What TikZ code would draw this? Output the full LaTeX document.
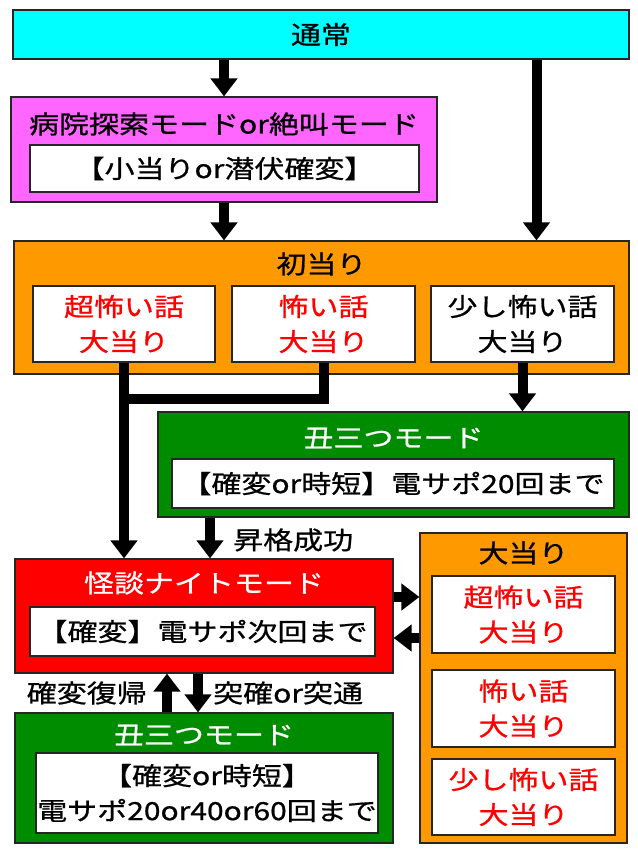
\documentclass[tikz,border=0pt]{standalone}
\usepackage{fontspec}
\newfontfamily\jpfont{Noto Sans CJK JP}[FakeStretch=1.2, FakeBold=0.8]
\usetikzlibrary{arrows.meta}
\definecolor{cyanbox}{RGB}{0,255,255}
\definecolor{pinkbox}{RGB}{255,102,255}
\definecolor{orangebox}{RGB}{255,153,0}
\definecolor{greenbox}{RGB}{0,140,0}
\definecolor{redbox}{RGB}{255,0,0}
\tikzset{
  box/.style={draw=black!85, line width=1.2pt, inner sep=0pt},
  panel/.style={box, fill=#1},
  inbox/.style={box, fill=white, align=center},
  ttl/.style={inner sep=0pt},
  lbl/.style={inner sep=0pt},
  link/.style={line width=10pt},
  arr/.style={line width=10pt, -{Triangle[width=26pt,length=18pt]}},
}
\begin{document}
\begin{tikzpicture}[x=1pt, y=-1pt, font=\jpfont\fontsize{25}{35}\selectfont]
\useasboundingbox (0,0) rectangle (637,853);
% top
\node[panel=cyanbox, minimum width=616pt, minimum height=49pt] (tsujo) at (321,34.5) {通常};
\node[panel=pinkbox, minimum width=426pt, minimum height=105pt] (byoin) at (224,149.5) {};
\node[ttl] (byoin-t) at (224,124) {病院探索モードor絶叫モード};
\node[inbox, minimum width=389pt, minimum height=47pt] (shoatari) at (224.5,168.5) {【小当りor潜伏確変】};
% first hit
\node[panel=orangebox, minimum width=615pt, minimum height=133pt] (hatsu) at (321.5,307.5) {};
\node[ttl] (hatsu-t) at (321.5,264) {初当り};
\node[inbox, minimum width=182pt, minimum height=76pt, text=red] (chou) at (124,324) {超怖い話\\大当り};
\node[inbox, minimum width=183pt, minimum height=76pt, text=red] (kowai) at (323.5,324) {怖い話\\大当り};
\node[inbox, minimum width=183pt, minimum height=76pt] (sukoshi) at (522.5,324) {少し怖い話\\大当り};
% ushimitsu 1
\node[panel=greenbox, minimum width=471pt, minimum height=105pt] (ushi1) at (393.5,464.5) {};
\node[ttl, text=white] (ushi1-t) at (393.5,438) {丑三つモード};
\node[inbox, minimum width=442pt, minimum height=49pt] (ushi1-in) at (393,483.5) {【確変or時短】電サポ20回まで};
% kaidan night
\node[panel=redbox, minimum width=378pt, minimum height=114pt] (kaidan) at (204,616) {};
\node[ttl, text=white] (kaidan-t) at (204,583) {怪談ナイトモード};
\node[inbox, minimum width=345pt, minimum height=49pt] (kaidan-in) at (202.5,631.5) {【確変】電サポ次回まで};
% ushimitsu 2
\node[panel=greenbox, minimum width=378pt, minimum height=130pt] (ushi2) at (204,778) {};
\node[ttl, text=white] (ushi2-t) at (204,735) {丑三つモード};
\node[inbox, minimum width=342pt, minimum height=80pt] (ushi2-in) at (207,793) {【確変or時短】\\電サポ20or40or60回まで};
% big hit
\node[panel=orangebox, minimum width=207pt, minimum height=310pt] (ooatari) at (523.5,688) {};
\node[ttl] (ooatari-t) at (523.5,553) {大当り};
\node[inbox, minimum width=183pt, minimum height=77pt, text=red] (oa1) at (523.5,614.5) {超怖い話\\大当り};
\node[inbox, minimum width=183pt, minimum height=77pt, text=red] (oa2) at (523.5,708.5) {怖い話\\大当り};
\node[inbox, minimum width=183pt, minimum height=76pt, text=red] (oa3) at (523.5,797) {少し怖い話\\大当り};
% labels
\node[lbl, anchor=west] (shokaku) at (233,540) {昇格成功};
\node[lbl, anchor=east] (fukki) at (147,693) {確変復帰};
\node[lbl, anchor=west] (totsu) at (213,693) {突確or突通};
% arrows
\draw[arr] (tsujo.south -| byoin.north) -- (byoin.north);
\draw[arr] ([xshift=14pt]sukoshi.north |- tsujo.south) -- ([xshift=14pt]sukoshi.north |- hatsu.north);
\draw[arr] (byoin.south) -- (byoin.south |- hatsu.north);
\draw[arr] (chou.south) -- (chou.south |- kaidan.north);
\draw[link] (kowai.south) |- ([yshift=-36pt]chou.south);
\draw[arr] (sukoshi.south) -- (sukoshi.south |- ushi1.north);
\draw[arr] ([xshift=6pt]kaidan.north |- ushi1.south) -- ([xshift=6pt]kaidan.north);
\draw[arr] ([yshift=19pt]kaidan.east) -- ([yshift=19pt]kaidan.east -| ooatari.west);
\draw[arr] ([yshift=-22pt]ooatari.west |- kaidan.east) -- ([yshift=-22pt]kaidan.east);
\draw[arr] ([xshift=-37pt]kaidan.south |- ushi2.north) -- ([xshift=-37pt]kaidan.south);
\draw[arr] ([xshift=-6pt]kaidan.south) -- ([xshift=-6pt]kaidan.south |- ushi2.north);
\end{tikzpicture}
\end{document}
